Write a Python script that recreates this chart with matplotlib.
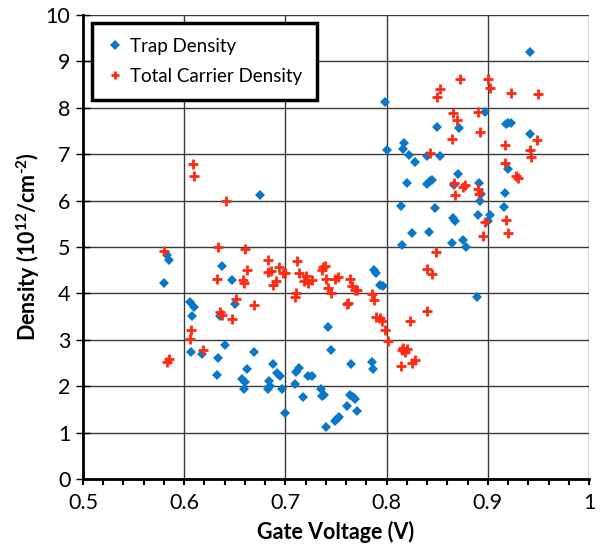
import matplotlib
matplotlib.use("Agg")
import matplotlib.pyplot as plt
from matplotlib.ticker import MultipleLocator

plt.rcParams['font.family'] = ['Lato', 'DejaVu Sans']
plt.rcParams['mathtext.fontset'] = 'custom'
plt.rcParams['mathtext.rm'] = 'Lato'
plt.rcParams['mathtext.bf'] = 'Lato:bold'
plt.rcParams['mathtext.it'] = 'Lato:italic'

trap_x = [0.580, 0.583, 0.585, 0.606, 0.608, 0.610, 0.607, 0.618, 0.632, 0.633,
          0.635, 0.637, 0.640, 0.647, 0.650, 0.657, 0.660, 0.659, 0.662, 0.669,
          0.675, 0.683, 0.684, 0.685, 0.688, 0.692, 0.695, 0.697, 0.700, 0.709,
          0.710, 0.713, 0.717, 0.722, 0.726, 0.735, 0.736, 0.738, 0.740, 0.742,
          0.745, 0.749, 0.751, 0.753, 0.761, 0.764, 0.765, 0.767, 0.769, 0.771,
          0.786, 0.787, 0.788, 0.790, 0.793, 0.796, 0.798, 0.800, 0.814, 0.815,
          0.816, 0.817, 0.820, 0.822, 0.825, 0.828, 0.840, 0.840, 0.843, 0.845,
          0.842, 0.848, 0.850, 0.853, 0.865, 0.866, 0.868, 0.867, 0.871, 0.872,
          0.875, 0.878, 0.889, 0.890, 0.891, 0.892, 0.893, 0.897, 0.900, 0.902,
          0.916, 0.917, 0.918, 0.920, 0.923, 0.920, 0.942, 0.942]
trap_y = [4.22, 4.82, 4.73, 3.82, 3.52, 3.70, 2.73, 2.70, 2.25, 2.60,
          3.52, 4.60, 2.88, 4.28, 3.78, 2.15, 2.10, 1.93, 2.37, 2.73,
          6.12, 1.93, 2.12, 2.00, 2.47, 2.28, 2.22, 1.95, 1.42, 2.05,
          2.30, 2.40, 1.77, 2.22, 2.23, 1.93, 1.78, 1.82, 1.12, 3.27,
          2.77, 1.24, 1.30, 1.34, 1.58, 1.80, 2.48, 1.77, 1.73, 1.47,
          2.52, 2.36, 4.50, 4.44, 4.18, 4.17, 8.12, 7.10, 5.88, 5.04,
          7.12, 7.24, 6.37, 6.98, 5.30, 6.84, 6.97, 6.35, 6.42, 6.45,
          5.33, 5.85, 7.58, 6.97, 5.09, 5.62, 5.55, 6.33, 6.57, 7.57,
          5.15, 4.99, 3.92, 5.68, 6.37, 6.00, 6.15, 7.92, 5.55, 5.69,
          5.86, 6.16, 7.65, 7.67, 7.67, 6.68, 9.20, 7.43]

carrier_x = [0.580, 0.583, 0.585, 0.606, 0.607, 0.609, 0.610, 0.619, 0.632, 0.633,
             0.635, 0.637, 0.641, 0.647, 0.651, 0.658, 0.659, 0.660, 0.662, 0.669,
             0.683, 0.683, 0.686, 0.688, 0.691, 0.694, 0.698, 0.700, 0.709, 0.710,
             0.711, 0.713, 0.718, 0.720, 0.722, 0.726, 0.736, 0.737, 0.739, 0.740,
             0.742, 0.745, 0.749, 0.752, 0.761, 0.762, 0.764, 0.766, 0.769, 0.771,
             0.786, 0.788, 0.790, 0.793, 0.795, 0.798, 0.801, 0.814, 0.815, 0.816,
             0.818, 0.820, 0.823, 0.825, 0.828, 0.840, 0.840, 0.845, 0.843, 0.849,
             0.850, 0.853, 0.865, 0.866, 0.867, 0.868, 0.870, 0.873, 0.875, 0.877,
             0.890, 0.891, 0.890, 0.892, 0.895, 0.897, 0.900, 0.902, 0.917, 0.917,
             0.918, 0.920, 0.923, 0.928, 0.930, 0.942, 0.943, 0.949, 0.950]
carrier_y = [4.92, 2.53, 2.58, 3.02, 3.21, 6.78, 6.52, 2.77, 4.30, 5.00,
             3.60, 3.53, 6.00, 3.45, 3.87, 4.28, 4.23, 4.95, 4.51, 3.76,
             4.72, 4.47, 4.48, 4.18, 4.26, 4.56, 4.43, 4.45, 3.92, 4.00,
             4.70, 4.45, 4.27, 4.37, 4.22, 4.28, 4.50, 4.57, 4.59, 4.30,
             4.12, 4.00, 4.30, 4.36, 3.77, 3.80, 4.32, 4.15, 4.07, 4.08,
             3.98, 3.85, 3.50, 3.47, 3.40, 3.22, 2.98, 2.43, 2.78, 2.82,
             2.73, 2.80, 3.40, 2.50, 2.56, 3.63, 4.53, 4.42, 7.02, 4.90,
             8.23, 8.40, 7.33, 7.88, 6.38, 6.13, 7.73, 8.62, 6.30, 6.33,
             6.25, 6.15, 7.90, 7.47, 5.23, 5.53, 8.62, 8.43, 6.80, 7.20,
             5.58, 5.30, 8.32, 6.52, 6.48, 7.10, 6.95, 7.30, 8.30]

x_ticks = [0.5, 0.6, 0.7, 0.8, 0.9, 1.0]
x_labels = ['0.5', '0.6', '0.7', '0.8', '0.9', '1']
y_ticks = list(range(0, 11))

fig = plt.figure(figsize=(6.05, 5.48), dpi=100)
ax = fig.add_axes([83/605, 1 - 479/548, 506/605, 464/548])

blue = '#0a78c8'
red = '#ff2a10'

ax.plot(trap_x, trap_y, linestyle='none', marker='D', markersize=5.4,
        color=blue, markeredgewidth=0, label='Trap Density', zorder=3)
ax.plot(carrier_x, carrier_y, linestyle='none', marker='+', markersize=7,
        markeredgewidth=2.0, color=red, label='Total Carrier Density', zorder=3)

ax.set_xlim(0.5, 1.0)
ax.set_ylim(0, 10)
ax.set_xticks(x_ticks)
ax.set_xticklabels(x_labels)
ax.set_yticks(y_ticks)
ax.xaxis.set_minor_locator(MultipleLocator(0.02))

ax.grid(True, which='major', color='#3a3a3a', linewidth=1.0)
ax.set_axisbelow(True)

for s in ['top', 'right']:
    ax.spines[s].set_visible(False)
for s in ['left', 'bottom']:
    ax.spines[s].set_linewidth(2.0)
    ax.spines[s].set_color('black')

ax.tick_params(axis='x', which='major', direction='out', length=4, width=1.5,
               labelsize=15.5, pad=6)
ax.tick_params(axis='x', which='minor', direction='out', length=4, width=1.5)
ax.tick_params(axis='y', which='major', direction='inout', length=10, width=1.0,
               labelsize=15.5, pad=4)

ax.set_xlabel('Gate Voltage (V)', fontsize=15.5, fontweight='bold', labelpad=6)
ax.set_ylabel('Density (10$^{\\mathbf{12}}$/cm$^{\\mathbf{\u2010}\\mathbf{2}}$)',
              fontsize=15.5, fontweight='bold', labelpad=3)

leg = ax.legend(loc='upper left', bbox_to_anchor=(0.018, 0.983), borderaxespad=0,
                fontsize=13.5, frameon=True, fancybox=False, handlelength=0.8,
                handletextpad=0.4, borderpad=0.8, labelspacing=0.7,
                markerscale=0.9)
leg.get_frame().set_edgecolor('black')
leg.get_frame().set_linewidth(2.5)
leg.get_frame().set_alpha(1)

fig.savefig('out.png', dpi=100)
